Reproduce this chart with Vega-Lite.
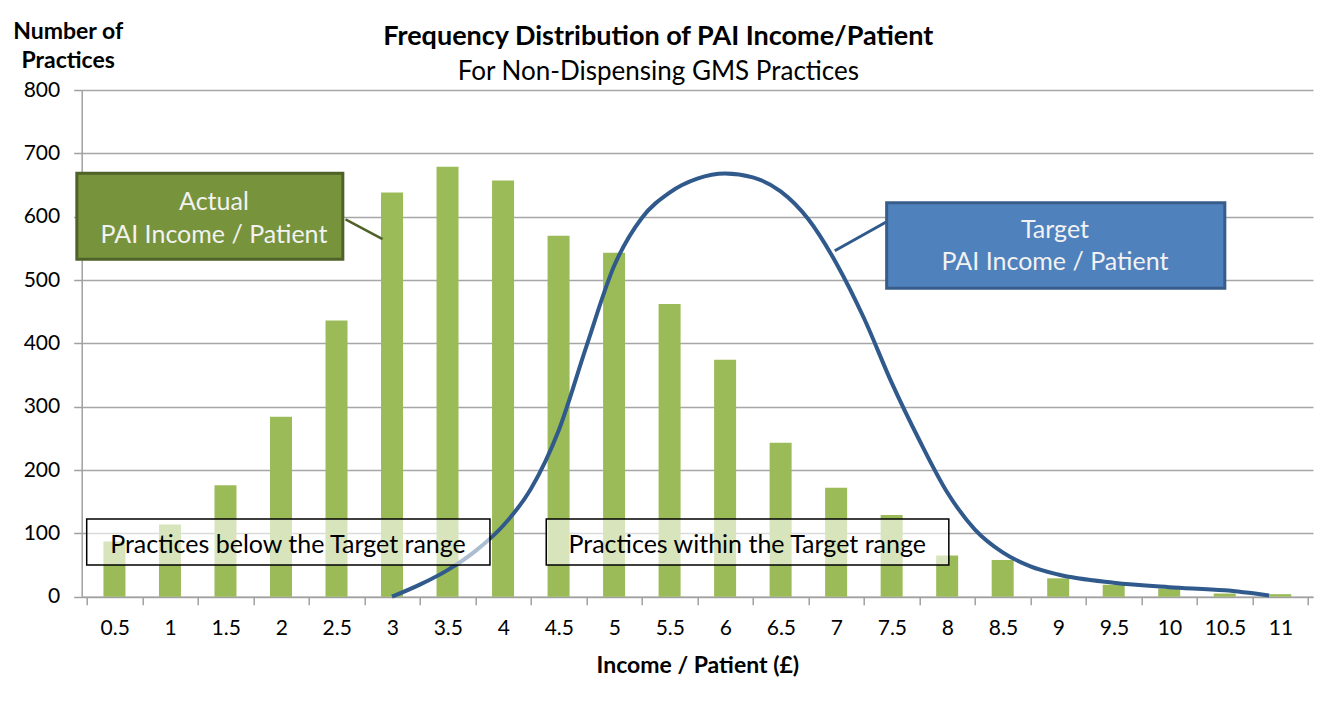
{
  "$schema": "https://vega.github.io/schema/vega-lite/v6.json",
  "autosize": {"type": "none"},
  "width": 1231.3,
  "height": 506.7,
  "padding": {"left": 81.7, "top": 90, "right": 27, "bottom": 112.3},
  "background": "white",
  "config": {
    "view": {"stroke": null},
    "font": "Lato",
    "axis": {
      "labelFont": "Lato",
      "labelFontSize": 21,
      "labelColor": "#000000",
      "titleFont": "Lato",
      "titleColor": "#000000",
      "domainColor": "#a0a0a0",
      "domainWidth": 1.5,
      "tickColor": "#a0a0a0",
      "tickWidth": 1.5,
      "gridColor": "#a6a6a6",
      "gridWidth": 1.5
    }
  },
  "title": {
    "text": "Frequency Distribution of PAI Income/Patient",
    "subtitle": "For Non-Dispensing GMS Practices",
    "anchor": "middle",
    "dx": -39,
    "font": "Lato",
    "fontSize": 27,
    "fontWeight": "bold",
    "color": "#000000",
    "subtitleFont": "Lato",
    "subtitleFontSize": 26,
    "subtitleColor": "#000000",
    "subtitlePadding": 8,
    "offset": -66
  },
  "encoding": {
    "x": {
      "field": "x",
      "type": "quantitative",
      "scale": {"domain": [0.25, 11.25], "nice": false, "zero": false},
      "axis": {
        "values": [0.25, 0.75, 1.25, 1.75, 2.25, 2.75, 3.25, 3.75, 4.25, 4.75, 5.25, 5.75, 6.25, 6.75, 7.25, 7.75, 8.25, 8.75, 9.25, 9.75, 10.25, 10.75, 11.25],
        "labelExpr": "datum.value > 11 ? '' : '' + (datum.value + 0.25)",
        "labelOffset": 28,
        "labelOverlap": false,
        "labelFlush": false,
        "labelBound": false,
        "grid": false,
        "tickSize": 8,
        "labelPadding": 13,
        "title": "Income / Patient (£)",
        "titleFontSize": 23,
        "titleFontWeight": "bold",
        "titlePadding": 16
      }
    },
    "y": {
      "field": "y",
      "type": "quantitative",
      "scale": {"domain": [0, 800], "nice": false},
      "axis": {
        "values": [0, 100, 200, 300, 400, 500, 600, 700, 800],
        "grid": true,
        "tickSize": 8,
        "labelPadding": 14,
        "title": ["Number of", "Practices"],
        "titleAngle": 0,
        "titleAlign": "center",
        "titleBaseline": "top",
        "titleX": -14,
        "titleY": -70,
        "titleFontSize": 23,
        "titleFontWeight": "bold",
        "titleLineHeight": 29
      }
    }
  },
  "layer": [
    {
      "data": {"values": [
        {"x": 0.5, "y": 87}, {"x": 1, "y": 114}, {"x": 1.5, "y": 176}, {"x": 2, "y": 284},
        {"x": 2.5, "y": 436}, {"x": 3, "y": 638}, {"x": 3.5, "y": 679}, {"x": 4, "y": 657},
        {"x": 4.5, "y": 570}, {"x": 5, "y": 543}, {"x": 5.5, "y": 462}, {"x": 6, "y": 374},
        {"x": 6.5, "y": 243}, {"x": 7, "y": 172}, {"x": 7.5, "y": 129}, {"x": 8, "y": 65},
        {"x": 8.5, "y": 58}, {"x": 9, "y": 29}, {"x": 9.5, "y": 19}, {"x": 10, "y": 13},
        {"x": 10.5, "y": 5}, {"x": 11, "y": 4}
      ]},
      "mark": {"type": "bar", "size": 22, "color": "#9BBB59"}
    },
    {
      "data": {"values": [
        {"x": 3.0, "y": 0}, {"x": 3.25, "y": 19}, {"x": 3.5, "y": 42}, {"x": 3.75, "y": 72},
        {"x": 4.0, "y": 112}, {"x": 4.25, "y": 170}, {"x": 4.5, "y": 262}, {"x": 4.75, "y": 395},
        {"x": 5.0, "y": 522}, {"x": 5.25, "y": 598}, {"x": 5.5, "y": 638}, {"x": 5.75, "y": 660},
        {"x": 6.0, "y": 668}, {"x": 6.25, "y": 662}, {"x": 6.5, "y": 640}, {"x": 6.75, "y": 596},
        {"x": 7.0, "y": 527}, {"x": 7.25, "y": 440}, {"x": 7.5, "y": 338}, {"x": 7.75, "y": 247},
        {"x": 8.0, "y": 165}, {"x": 8.25, "y": 106}, {"x": 8.5, "y": 70}, {"x": 8.75, "y": 48},
        {"x": 9.0, "y": 35}, {"x": 9.5, "y": 22}, {"x": 10.0, "y": 15}, {"x": 10.5, "y": 10},
        {"x": 10.9, "y": 2}
      ]},
      "mark": {"type": "line", "interpolate": "monotone", "stroke": "#30598C", "strokeWidth": 4}
    },
    {
      "data": {"values": [
        {"x": 0.25, "x2": 3.882, "y": 122.7, "y2": 50},
        {"x": 4.389, "x2": 8.015, "y": 122.7, "y2": 50}
      ]},
      "mark": {"type": "rect", "fill": "#ffffff", "fillOpacity": 0.6, "stroke": "#000000", "strokeWidth": 1.5},
      "encoding": {"x2": {"field": "x2"}, "y2": {"field": "y2"}}
    },
    {
      "data": {"values": [
        {"x": 2.063, "y": 81.6, "label": "Practices below the Target range"},
        {"x": 6.199, "y": 81.6, "label": "Practices within the Target range"}
      ]},
      "mark": {"type": "text", "font": "Lato", "fontSize": 25, "color": "#000000", "align": "center", "baseline": "middle"},
      "encoding": {"text": {"field": "label"}}
    },
    {
      "data": {"values": [{"x": 2.581, "y": 595.8, "x2": 2.915, "y2": 564.7}]},
      "mark": {"type": "rule", "stroke": "#4F6228", "strokeWidth": 2.5},
      "encoding": {"x2": {"field": "x2"}, "y2": {"field": "y2"}}
    },
    {
      "data": {"values": [{"x": 0.161, "x2": 2.557, "y": 668.5, "y2": 532.7}]},
      "mark": {"type": "rect", "fill": "#77933C", "stroke": "#4F6228", "strokeWidth": 3},
      "encoding": {"x2": {"field": "x2"}, "y2": {"field": "y2"}}
    },
    {
      "data": {"values": [{"x": 7.455, "y": 592.0, "x2": 6.988, "y2": 546.2}]},
      "mark": {"type": "rule", "stroke": "#30598C", "strokeWidth": 3},
      "encoding": {"x2": {"field": "x2"}, "y2": {"field": "y2"}}
    },
    {
      "data": {"values": [{"x": 7.455, "x2": 10.501, "y": 622.0, "y2": 486.9}]},
      "mark": {"type": "rect", "fill": "#4F81BD", "stroke": "#385D8A", "strokeWidth": 3},
      "encoding": {"x2": {"field": "x2"}, "y2": {"field": "y2"}}
    },
    {
      "data": {"values": [
        {"x": 1.396, "y": 623.6, "label": "Actual"},
        {"x": 1.396, "y": 571.0, "label": "PAI Income / Patient"},
        {"x": 8.971, "y": 578.9, "label": "Target"},
        {"x": 8.971, "y": 528.9, "label": "PAI Income / Patient"}
      ]},
      "mark": {"type": "text", "font": "Lato", "fontSize": 25, "color": "#F2F2F2", "align": "center", "baseline": "middle"},
      "encoding": {"text": {"field": "label"}}
    }
  ]
}
